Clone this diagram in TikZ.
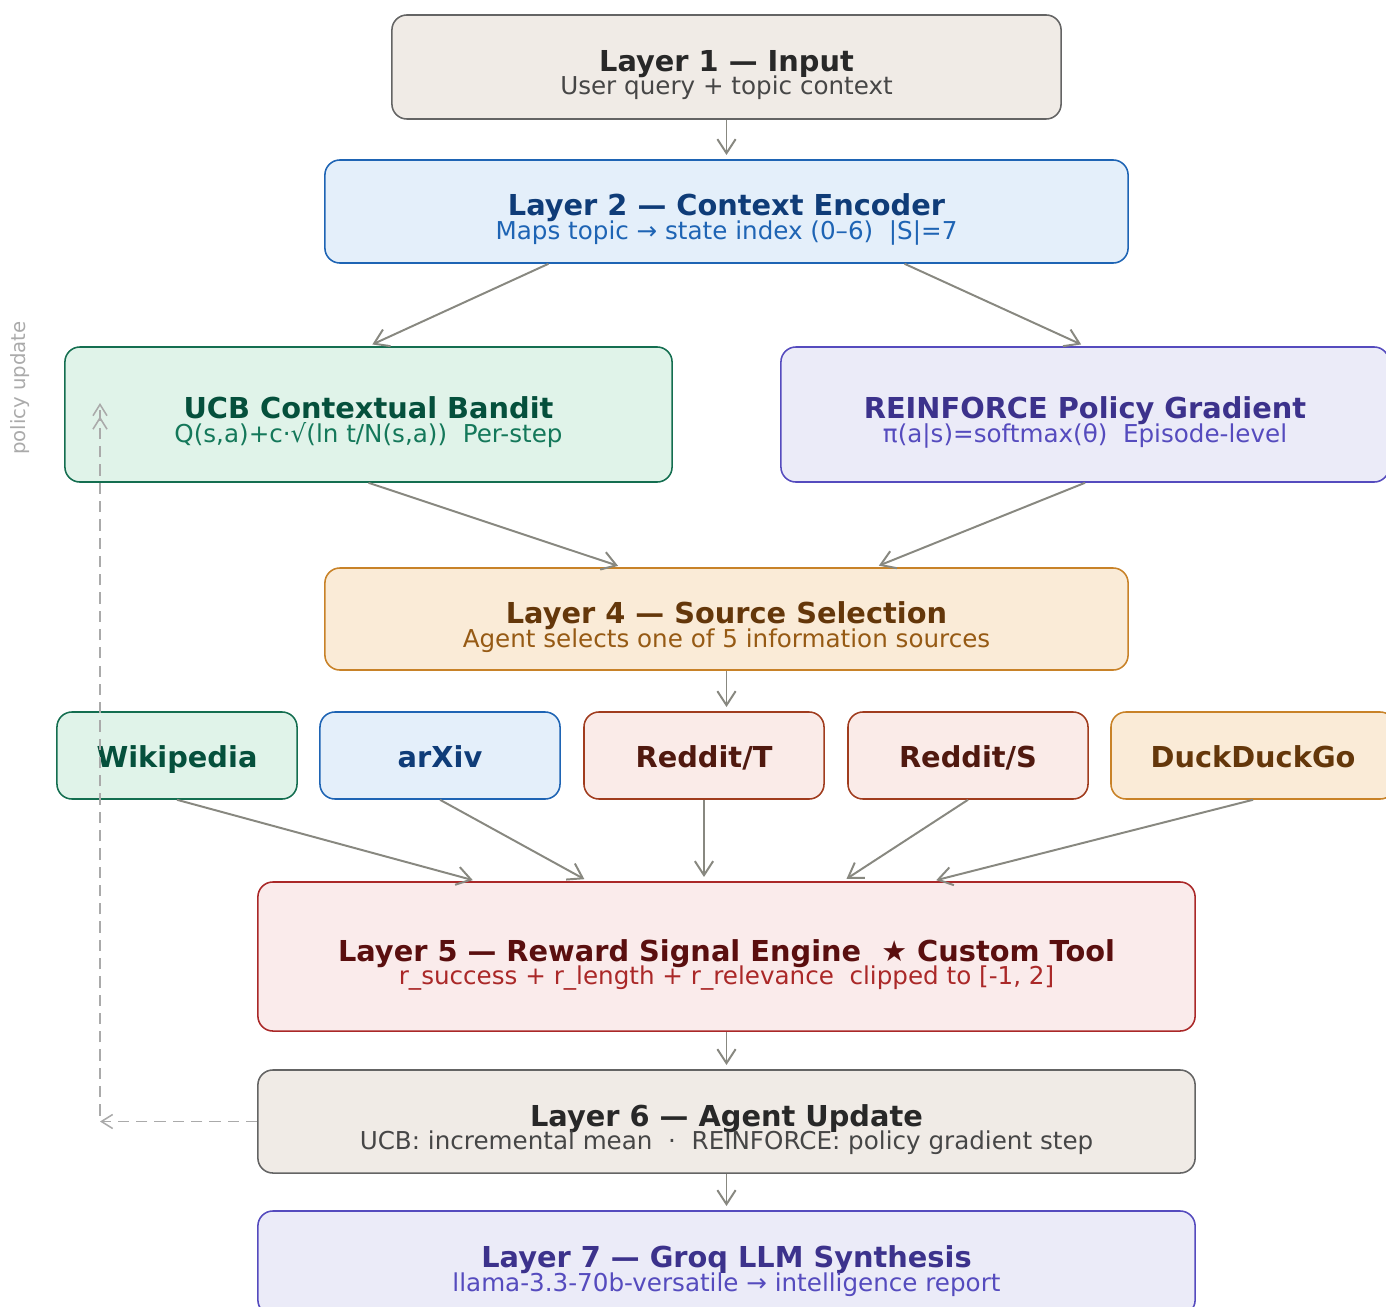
\documentclass[tikz,border=0pt]{standalone}
\usepackage{fontspec}
\setmainfont{DejaVu Sans}
\usepackage{tikz}
\usetikzlibrary{positioning, arrows.meta, calc}
\definecolor{inpfill}{RGB}{240, 235, 230}
\definecolor{inpdraw}{RGB}{100, 100, 100}
\definecolor{inptext}{RGB}{40, 40, 40}
\definecolor{inpsub}{RGB}{70, 70, 70}
\definecolor{encfill}{RGB}{228, 239, 250}
\definecolor{encdraw}{RGB}{30, 100, 180}
\definecolor{enctext}{RGB}{15, 60, 120}
\definecolor{ucbfill}{RGB}{224, 243, 233}
\definecolor{ucbdraw}{RGB}{20, 110, 80}
\definecolor{ucbtext}{RGB}{5, 80, 60}
\definecolor{ucbsub}{RGB}{20, 120, 90}
\definecolor{pgfill}{RGB}{235, 235, 248}
\definecolor{pgdraw}{RGB}{85, 75, 190}
\definecolor{pgtext}{RGB}{60, 50, 140}
\definecolor{selfill}{RGB}{250, 235, 215}
\definecolor{seldraw}{RGB}{200, 130, 40}
\definecolor{seltext}{RGB}{100, 55, 10}
\definecolor{selsub}{RGB}{150, 90, 20}
\definecolor{rdfill}{RGB}{250, 235, 232}
\definecolor{rddraw}{RGB}{160, 60, 30}
\definecolor{rdtext}{RGB}{80, 25, 15}
\definecolor{rwfill}{RGB}{250, 235, 235}
\definecolor{rwdraw}{RGB}{170, 40, 40}
\definecolor{rwtext}{RGB}{90, 15, 15}
\definecolor{arrgray}{RGB}{136, 136, 128}
\definecolor{fbgray}{RGB}{170, 170, 170}
\tikzset{
    layer/.style={draw, rounded corners=0.375cm, line width=1.1pt},
    inpbox/.style={layer, fill=inpfill, draw=inpdraw},
    encbox/.style={layer, fill=encfill, draw=encdraw},
    ucbbox/.style={layer, fill=ucbfill, draw=ucbdraw},
    pgbox/.style={layer, fill=pgfill, draw=pgdraw},
    selbox/.style={layer, fill=selfill, draw=seldraw},
    rdbox/.style={layer, fill=rdfill, draw=rddraw},
    rwbox/.style={layer, fill=rwfill, draw=rwdraw},
    srcbox/.style={minimum width=6cm, minimum height=2.175cm, text height=19.5pt, text depth=2.25pt,
        font=\fontsize{20.5}{24}\selectfont\bfseries},
    ttl/.style={anchor=base, inner sep=0pt, font=\fontsize{20.5}{24}\selectfont\bfseries},
    sub/.style={anchor=base, inner sep=0pt, font=\fontsize{17.5}{20}\selectfont},
    arr/.style={draw=arrgray, line width=1.4pt, -{Straight Barb[length=10pt, width=13pt]}, shorten >=3pt},
    fb/.style={draw=fbgray, line width=1.1pt, dash pattern=on 8pt off 5pt},
    fbtip/.tip={Straight Barb[length=8pt, width=10pt]}
}
\begin{document}
\begin{tikzpicture}[x=0.025cm, y=-0.025cm]
    \useasboundingbox (0,0) rectangle (1386,1307);

    % layer boxes
    \node[inpbox, minimum width=16.725cm, minimum height=2.6cm] (inp) at (726.5,67) {};
    \node[encbox, minimum width=20.075cm, minimum height=2.575cm] (enc) at (726.5,211.5) {};
    \node[ucbbox, minimum width=15.175cm, minimum height=3.375cm] (ucb) at (368.5,414.5) {};
    \node[pgbox, minimum width=15.2cm, minimum height=3.375cm] (pg) at (1085,414.5) {};
    \node[selbox, minimum width=20.075cm, minimum height=2.55cm] (sel) at (726.5,619) {};
    \node[rwbox, minimum width=23.425cm, minimum height=3.725cm] (rw) at (726.5,956.5) {};
    \node[inpbox, minimum width=23.425cm, minimum height=2.575cm] (upd) at (726.5,1121.5) {};
    \node[pgbox, minimum width=23.425cm, minimum height=2.6cm] (syn) at (726.5,1263) {};

    % titles and subtitles
    \node[ttl, text=inptext] (inpttl) at ($(inp.center)+(0,4.5)$) {Layer 1 — Input};
    \node[sub, text=inpsub] (inpsub) at ($(inp.center)+(0,28)$) {User query + topic context};
    \node[ttl, text=enctext] (encttl) at ($(enc.center)+(0,4.5)$) {Layer 2 — Context Encoder};
    \node[sub, text=encdraw] (encsub) at ($(enc.center)+(0,28)$) {Maps topic → state index (0–6)\ \ |S|=7};
    \node[ttl, text=ucbtext] (ucbttl) at ($(ucb.center)+(0,4)$) {UCB Contextual Bandit};
    \node[sub, text=ucbsub] (ucbsub) at ($(ucb.center)+(0,28)$) {Q(s,a)+c·√(ln t/N(s,a))\ \ Per-step};
    \node[ttl, text=pgtext] (pgttl) at ($(pg.center)+(0,4)$) {REINFORCE Policy Gradient};
    \node[sub, text=pgdraw] (pgsub) at ($(pg.center)+(0,28)$) {π(a|s)=softmax(θ)\ \ Episode-level};
    \node[ttl, text=seltext] (selttl) at ($(sel.center)+(0,4.5)$) {Layer 4 — Source Selection};
    \node[sub, text=selsub] (selsub) at ($(sel.center)+(0,28)$) {Agent selects one of 5 information sources};
    \node[ttl, text=rwtext] (rwttl) at ($(rw.center)+(0,4.5)$) {Layer 5 — Reward Signal Engine\ \ ★ Custom Tool};
    \node[sub, text=rwdraw] (rwsub) at ($(rw.center)+(0,28)$) {r\_success + r\_length + r\_relevance\ \ clipped to [-1, 2]};
    \node[ttl, text=inptext] (updttl) at ($(upd.center)+(0,4.5)$) {Layer 6 — Agent Update};
    \node[sub, text=inpsub] (updsub) at ($(upd.center)+(0,28)$) {UCB: incremental mean\ \ ·\ \ REINFORCE: policy gradient step};
    \node[ttl, text=pgtext] (synttl) at ($(syn.center)+(0,4.5)$) {Layer 7 — Groq LLM Synthesis};
    \node[sub, text=pgdraw] (synsub) at ($(syn.center)+(0,28)$) {llama-3.3-70b-versatile → intelligence report};

    % sources
    \node[ucbbox, srcbox, text=ucbtext] (wiki) at (177,755.5) {Wikipedia};
    \node[encbox, srcbox, text=enctext] (arx) at (440,755.5) {arXiv};
    \node[rdbox, srcbox, text=rdtext] (rdt) at (704,755.5) {Reddit/T};
    \node[rdbox, srcbox, text=rdtext] (rds) at (968,755.5) {Reddit/S};
    \node[selbox, srcbox, minimum width=7.1cm, text=seltext] (ddg) at (1253,755.5) {DuckDuckGo};

    % flow arrows
    \draw[arr] (inp.south) -- (enc.north);
    \draw[arr] ([xshift=-4.45cm]enc.south) -- (ucb.north);
    \draw[arr] ([xshift=4.45cm]enc.south) -- (pg.north);
    \draw[arr] (ucb.south) -- ([xshift=-2.61cm]sel.north);
    \draw[arr] (pg.south) -- ([xshift=3.71cm]sel.north);
    \draw[arr] (sel.south) -- (sel.south |- rdt.north);
    \foreach \src/\dx in {wiki/-6.24cm, arx/-3.46cm, rds/2.91cm, ddg/5.14cm}
        \draw[arr] (\src.south) -- ([xshift=\dx]rw.north);
    \draw[arr] (rdt.south) -- (rdt.south |- rw.north);
    \draw[arr] (rw.south) -- (upd.north);
    \draw[arr] (upd.south) -- (syn.north);

    % feedback loop
    \coordinate (fbc) at (100,1121.5);
    \coordinate (fbtop) at (100,403);
    \draw[fb, -fbtip] (upd.west) -- (fbc);
    \draw[fb, -{fbtip[] fbtip[]}] ([yshift=0.15cm]fbc) -- (fbtop);
    \node[rotate=90, text=fbgray, font=\fontsize{14}{16}\selectfont] (fblbl) at (20,388) {policy update};
\end{tikzpicture}
\end{document}
